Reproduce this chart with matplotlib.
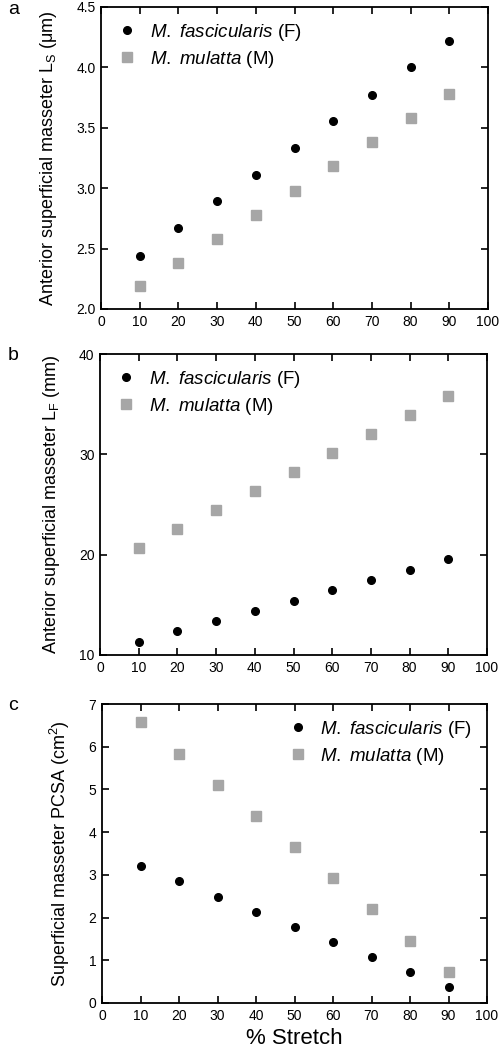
import matplotlib
matplotlib.use('Agg')
import matplotlib.pyplot as plt

plt.rcParams['font.family'] = ['Liberation Sans', 'DejaVu Sans']
plt.rcParams['mathtext.fontset'] = 'custom'
plt.rcParams['mathtext.rm'] = 'Liberation Sans'
plt.rcParams['mathtext.it'] = 'Liberation Sans:italic'

# data
stretch = [10, 20, 30, 40, 50, 60, 70, 80, 90]
ls_fasc = [2.44, 2.67, 2.89, 3.11, 3.33, 3.56, 3.77, 4.00, 4.22]
ls_mul = [2.19, 2.38, 2.58, 2.78, 2.98, 3.18, 3.38, 3.58, 3.78]
lf_fasc = [11.3, 12.4, 13.4, 14.4, 15.4, 16.5, 17.5, 18.5, 19.6]
lf_mul = [20.7, 22.6, 24.5, 26.3, 28.2, 30.1, 32.0, 33.9, 35.8]
pcsa_fasc = [3.21, 2.85, 2.49, 2.14, 1.78, 1.43, 1.07, 0.72, 0.37]
pcsa_mul = [6.57, 5.84, 5.11, 4.38, 3.65, 2.92, 2.19, 1.46, 0.73]

x_ticks = [0, 10, 20, 30, 40, 50, 60, 70, 80, 90, 100]
label_f = r'$\mathit{M.\ fascicularis}$ (F)'
label_m = r'$\mathit{M.\ mulatta}$ (M)'

panels = [
    dict(letter='a', f=ls_fasc, m=ls_mul, ylim=(2.0, 4.5),
         yticks=[2.0, 2.5, 3.0, 3.5, 4.0, 4.5], fmt='{:.1f}',
         ylabel=r'Anterior superficial masseter L$_\mathrm{S}$ ($\mathrm{\mu}$m)',
         loc='upper left', box=[101, 7, 488, 309]),
    dict(letter='b', f=lf_fasc, m=lf_mul, ylim=(10, 40),
         yticks=[10, 20, 30, 40], fmt='{:.0f}',
         ylabel=r'Anterior superficial masseter L$_\mathrm{F}$ (mm)',
         loc='upper left', box=[100, 354, 487, 655]),
    dict(letter='c', f=pcsa_fasc, m=pcsa_mul, ylim=(0, 7),
         yticks=[0, 1, 2, 3, 4, 5, 6, 7], fmt='{:.0f}',
         ylabel=r'Superficial masseter PCSA (cm$^2$)',
         loc='upper right', box=[102, 704, 487, 1003]),
]

W, H = 500, 1050
fig = plt.figure(figsize=(W / 100, H / 100), dpi=100)

for p in panels:
    x0, y0, x1, y1 = p['box']
    ax = fig.add_axes([x0 / W, 1 - y1 / H, (x1 - x0) / W, (y1 - y0) / H])
    ax.plot(stretch, p['f'], 'o', color='black', ms=5.5, label=label_f)
    ax.plot(stretch, p['m'], 's', color='#a6a6a6', ms=7, label=label_m)
    ax.set_xlim(0, 100)
    ax.set_ylim(*p['ylim'])
    ax.set_xticks(x_ticks)
    ax.set_yticks(p['yticks'])
    ax.set_yticklabels([p['fmt'].format(v) for v in p['yticks']])
    ax.tick_params(direction='in', top=True, right=True, length=5, width=1.2,
                   labelsize=10, colors='black', pad=4)
    for s in ax.spines.values():
        s.set_linewidth(1.3)
    ax.set_ylabel(p['ylabel'], fontsize=13, labelpad=12)
    ax.legend(loc=p['loc'], frameon=False, fontsize=13.5, handletextpad=0.6,
              borderaxespad=0.4, labelspacing=0.3, handlelength=1.2)
    fig.text(8 / W, 1 - (y0 + 2) / H, p['letter'], fontsize=14, va='center')

ax.set_xlabel('% Stretch', fontsize=16, labelpad=4)

fig.savefig('out.png', dpi=100)
